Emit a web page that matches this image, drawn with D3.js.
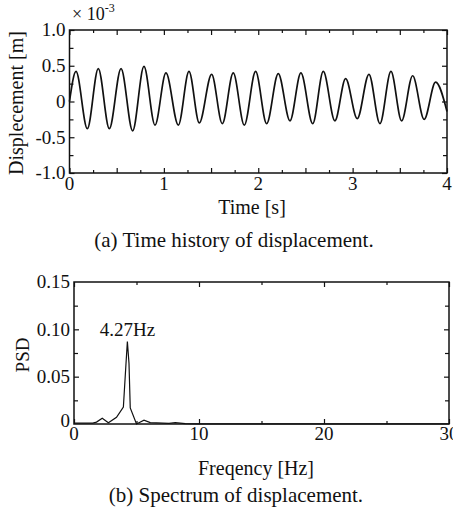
<!DOCTYPE html>
<html>
<head>
<meta charset="utf-8">
<script src="https://cdn.jsdelivr.net/npm/d3@7"></script>
<style>
  body { margin: 0; background: #fff; }
  svg { display: block; }
  text { font-family: "Liberation Serif", "Times New Roman", serif; fill: #111; }
  .tick line { stroke: #111; stroke-width: 1.2; }
</style>
</head>
<body>
<svg id="chart" width="453" height="509"></svg>
<script>
// (a) displacement time history, peaks and troughs (x 10^-3 m)
var timeS = [0.00, 0.069, 0.189, 0.305, 0.422, 0.546, 0.669, 0.789, 0.906, 1.022, 1.153,
	1.266, 1.375, 1.506, 1.619, 1.735, 1.852, 1.972, 2.089, 2.212, 2.336, 2.452, 2.577,
	2.689, 2.812, 2.926, 3.049, 3.173, 3.289, 3.406, 3.519, 3.636, 3.758, 3.879, 4.00];
var dispMm = [0.00, 0.42, -0.38, 0.46, -0.38, 0.46, -0.41, 0.49, -0.33, 0.40, -0.33,
	0.42, -0.30, 0.38, -0.31, 0.40, -0.33, 0.42, -0.31, 0.39, -0.27, 0.40, -0.31,
	0.42, -0.27, 0.32, -0.24, 0.38, -0.31, 0.42, -0.27, 0.36, -0.25, 0.27, -0.14];
var timeTicks = [0, 1, 2, 3, 4];
var dispTicks = [-1.0, -0.5, 0, 0.5, 1.0];
var dispTickLabels = ["-1.0", "-0.5", "0", "0.5", "1.0"];

// (b) power spectral density
var freqHz = [0.0, 1.0, 1.5, 1.8, 2.26, 2.75, 3.4, 3.95, 4.16, 4.27, 4.4, 4.5, 5.0, 5.6,
	6.1, 7.1, 7.6, 8.1, 8.9, 10, 15, 20, 25, 30];
var psd = [0.001, 0.001, 0.001, 0.002, 0.006, 0.0014, 0.007, 0.018, 0.064, 0.087, 0.064,
	0.017, 0.0, 0.004, 0.0014, 0.001, 0.0006, 0.0015, 0.0005, 0.0002, 0.0002, 0.0002, 0.0002, 0.0002];
var freqTicks = [0, 10, 20, 30];
var psdTicks = [0, 0.05, 0.10, 0.15];
var psdTickLabels = ["0", "0.05", "0.10", "0.15"];
var peakLabel = "4.27Hz";

var svg = d3.select("#chart");
svg.append("rect").attr("width", 453).attr("height", 509).attr("fill", "#fff");

function frame(g, x, y, xMajor, xMinor, yMajor, yMinor) {
	var x0 = x.range()[0], x1 = x.range()[1], y0 = y.range()[0], y1 = y.range()[1];
	var noLab = function () { return ""; };
	g.append("g").attr("transform", "translate(0," + y0 + ")")
		.call(d3.axisBottom(x).tickValues(xMajor).tickSize(-5).tickFormat(noLab));
	g.append("g").attr("transform", "translate(0," + y0 + ")")
		.call(d3.axisBottom(x).tickValues(xMinor).tickSize(-3).tickFormat(noLab));
	g.append("g").attr("transform", "translate(0," + y1 + ")")
		.call(d3.axisTop(x).tickValues(xMajor).tickSize(-5).tickFormat(noLab));
	g.append("g").attr("transform", "translate(0," + y1 + ")")
		.call(d3.axisTop(x).tickValues(xMinor).tickSize(-3).tickFormat(noLab));
	g.append("g").attr("transform", "translate(" + x0 + ",0)")
		.call(d3.axisLeft(y).tickValues(yMajor).tickSize(-5).tickFormat(noLab));
	g.append("g").attr("transform", "translate(" + x0 + ",0)")
		.call(d3.axisLeft(y).tickValues(yMinor).tickSize(-4).tickFormat(noLab));
	g.append("g").attr("transform", "translate(" + x1 + ",0)")
		.call(d3.axisRight(y).tickValues(yMajor).tickSize(-5).tickFormat(noLab));
	g.append("g").attr("transform", "translate(" + x1 + ",0)")
		.call(d3.axisRight(y).tickValues(yMinor).tickSize(-4).tickFormat(noLab));
	g.selectAll(".domain").remove();
	g.append("rect")
		.attr("x", x0).attr("y", y1)
		.attr("width", x1 - x0).attr("height", y0 - y1)
		.attr("fill", "none").attr("stroke", "#111").attr("stroke-width", 1.5);
}

function labels(g, x, y, xVals, xFmt, xBase, yVals, yFmt, yPad, yShift, size) {
	g.selectAll(".xl").data(xVals).enter().append("text")
		.attr("x", function (d) { return x(d); })
		.attr("y", xBase)
		.attr("text-anchor", "middle")
		.style("font-size", size + "px")
		.text(function (d, i) { return xFmt[i]; });
	g.selectAll(".yl").data(yVals).enter().append("text")
		.attr("x", x.range()[0] - yPad)
		.attr("y", function (d) { return y(d) - (d === 0 ? yShift : 0); })
		.attr("dy", "0.34em")
		.attr("text-anchor", "end")
		.style("font-size", size + "px")
		.text(function (d, i) { return yFmt[i]; });
}

// ---- (a) time history
var xa = d3.scaleLinear().domain([0, 4]).range([69.5, 447]);
var ya = d3.scaleLinear().domain([-1, 1]).range([173, 30]);
var ga = svg.append("g");
frame(ga, xa, ya, d3.range(0, 4.01, 0.5), d3.range(0.25, 4, 0.5),
	d3.range(-1, 1.01, 0.5), d3.range(-0.75, 1, 0.5));

ga.append("path")
	.datum(d3.zip(timeS, dispMm))
	.attr("fill", "none").attr("stroke", "#111").attr("stroke-width", 1.7)
	.attr("d", d3.line()
		.x(function (d) { return xa(d[0]); })
		.y(function (d) { return ya(d[1]); })
		.curve(d3.curveMonotoneX));

labels(ga, xa, ya, timeTicks, timeTicks.map(String), 190, dispTicks, dispTickLabels, 4, 0, 19);

var mult = ga.append("text").attr("x", 72).attr("y", 20).style("font-size", "18px");
mult.append("tspan").text("\u00d7 10");
mult.append("tspan").attr("dy", -8).style("font-size", "12px").text("-3");

ga.append("text")
	.attr("transform", "translate(23," + 103 + ") rotate(-90)")
	.attr("text-anchor", "middle")
	.style("font-size", "20px")
	.text("Displecement [m]");
ga.append("text").attr("x", 252).attr("y", 214)
	.attr("text-anchor", "middle").style("font-size", "20px").text("Time [s]");
ga.append("text").attr("x", 234).attr("y", 247)
	.attr("text-anchor", "middle").style("font-size", "21px").text("(a) Time history of displacement.");

// ---- (b) spectrum
var xb = d3.scaleLinear().domain([0, 30]).range([74, 449]);
var yb = d3.scaleLinear().domain([0, 0.15]).range([424, 282]);
var gb = svg.append("g");
frame(gb, xb, yb, d3.range(0, 30.1, 10), d3.range(5, 30, 10),
	[0.05, 0.10], [0.025, 0.075, 0.125]);

gb.append("path")
	.datum(d3.zip(freqHz, psd))
	.attr("fill", "none").attr("stroke", "#111").attr("stroke-width", 1.2)
	.attr("d", d3.line()
		.x(function (d) { return xb(d[0]); })
		.y(function (d) { return yb(d[1]); }));

labels(gb, xb, yb, freqTicks, freqTicks.map(String), 440, psdTicks, psdTickLabels, 4, 3, 19);

gb.append("text").attr("x", xb(4.27)).attr("y", 336)
	.attr("text-anchor", "middle").style("font-size", "19px").text(peakLabel);
gb.append("text")
	.attr("transform", "translate(29," + 355 + ") rotate(-90)")
	.attr("text-anchor", "middle")
	.style("font-size", "19px")
	.text("PSD");
gb.append("text").attr("x", 256).attr("y", 475)
	.attr("text-anchor", "middle").style("font-size", "20px").text("Freqency [Hz]");
gb.append("text").attr("x", 236).attr("y", 502)
	.attr("text-anchor", "middle").style("font-size", "21px").text("(b) Spectrum of displacement.");
</script>
</body>
</html>
